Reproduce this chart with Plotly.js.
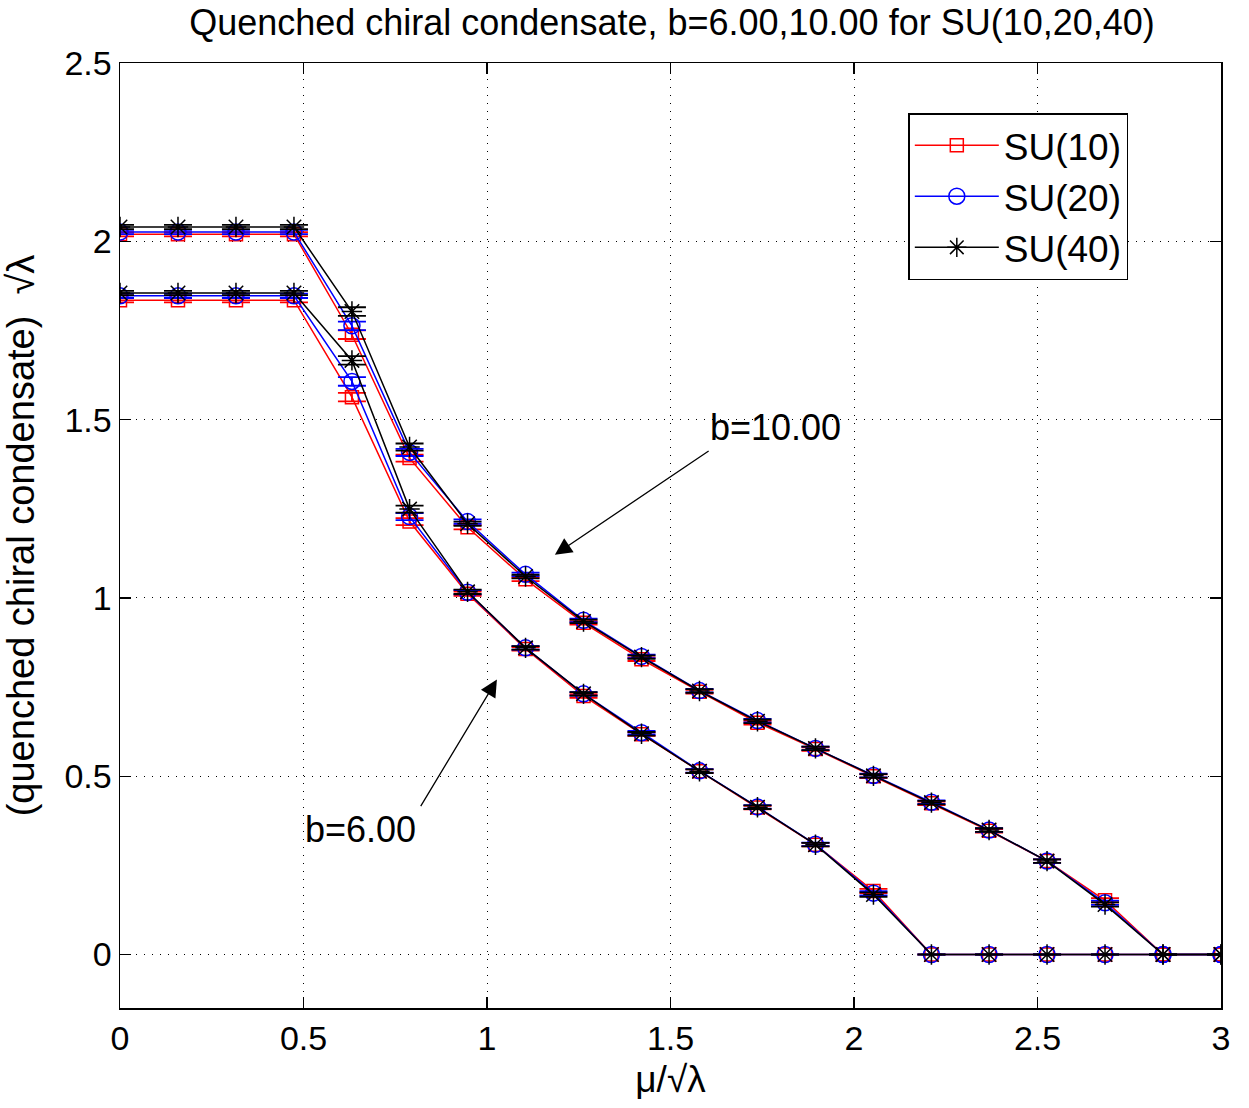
<!DOCTYPE html>
<html>
<head>
<meta charset="utf-8">
<script src="https://cdn.plot.ly/plotly-3.0.1.min.js"></script>
<style>
  html, body { margin: 0; padding: 0; background: #fff; }
  #chart { width: 1249px; height: 1108px; }
</style>
</head>
<body>
<div id="chart"></div>
<script>
// chemical potential mu / sqrt(lambda)
const mu = [0, 0.158, 0.316, 0.474, 0.632, 0.789, 0.947, 1.105, 1.263, 1.421,
            1.579, 1.737, 1.895, 2.053, 2.211, 2.368, 2.526, 2.684, 2.842, 3.0];

// condensate at b = 6.00
const b6_su10 = [1.835, 1.835, 1.835, 1.835, 1.563, 1.214, 1.012, 0.857, 0.725, 0.618,
                 0.514, 0.412, 0.308, 0.178, 0, 0, 0, 0, 0, 0];
const b6_su20 = [1.847, 1.847, 1.847, 1.847, 1.607, 1.228, 1.016, 0.860, 0.731, 0.622,
                 0.515, 0.414, 0.309, 0.172, 0, 0, 0, 0, 0, 0];
const b6_su40 = [1.855, 1.855, 1.855, 1.855, 1.666, 1.249, 1.017, 0.860, 0.731, 0.619,
                 0.514, 0.413, 0.308, 0.168, 0, 0, 0, 0, 0, 0];

// condensate at b = 10.00
const b10_su10 = [2.020, 2.020, 2.020, 2.020, 1.738, 1.392, 1.198, 1.052, 0.930, 0.828,
                  0.737, 0.650, 0.576, 0.500, 0.424, 0.347, 0.262, 0.152, 0, 0];
const b10_su20 = [2.026, 2.026, 2.026, 2.026, 1.763, 1.408, 1.214, 1.066, 0.937, 0.836,
                  0.740, 0.656, 0.578, 0.502, 0.427, 0.349, 0.262, 0.145, 0, 0];
const b10_su40 = [2.040, 2.040, 2.040, 2.040, 1.803, 1.423, 1.208, 1.060, 0.934, 0.834,
                  0.739, 0.654, 0.578, 0.501, 0.426, 0.349, 0.262, 0.140, 0, 0];

// statistical errors
const err_b6  = [0.006, 0.006, 0.006, 0.006, 0.012, 0.010, 0.006, 0.005, 0.005, 0.005,
                 0.005, 0.005, 0.005, 0.006, 0, 0, 0, 0, 0, 0];
const err_b10 = [0.006, 0.006, 0.006, 0.006, 0.012, 0.010, 0.006, 0.005, 0.005, 0.005,
                 0.005, 0.005, 0.005, 0.005, 0.005, 0.005, 0.005, 0.006, 0, 0];

const seriesNames = ['SU(10)', 'SU(20)', 'SU(40)'];
const colors = ['#ff0000', '#0000ff', '#000000'];
const symbols = ['square-open', 'circle-open', 'asterisk-open'];
const markerSizes = [13, 16, 17];

const b6 = [b6_su10, b6_su20, b6_su40];
const b10 = [b10_su10, b10_su20, b10_su40];

function makeTrace(y, err, i, showLegend) {
  return {
    x: mu, y: y, type: 'scatter', mode: 'lines+markers',
    name: seriesNames[i], showlegend: showLegend, legendgroup: seriesNames[i],
    line: { color: colors[i], width: 1.5 },
    marker: { symbol: symbols[i], size: markerSizes[i], color: colors[i],
              line: { color: colors[i], width: 1.5 } },
    error_y: { type: 'data', array: err, visible: true, color: colors[i],
               thickness: 1.8, width: 14 }
  };
}

const traces = [];
for (let i = 0; i < 3; i++) {
  traces.push(makeTrace(b6[i], err_b6, i, false));
  traces.push(makeTrace(b10[i], err_b10, i, true));
}

const font = 'Liberation Sans, Arial, Helvetica, sans-serif';

const axisCommon = {
  showline: true, linecolor: '#000', linewidth: 1.5, mirror: 'ticks',
  ticks: 'inside', ticklen: 11, tickwidth: 1.2, tickcolor: '#000',
  showgrid: true, gridcolor: '#000', gridwidth: 1, griddash: '1px,7px',
  zeroline: false,
  tickfont: { family: font, size: 34, color: '#000' }
};

const layout = {
  width: 1249, height: 1108,
  paper_bgcolor: '#fff', plot_bgcolor: '#fff',
  margin: { l: 120, r: 28, t: 63, b: 100 },
  title: { text: 'Quenched chiral condensate, b=6.00,10.00 for SU(10,20,40)',
           font: { family: font, size: 36, color: '#000' },
           x: 0.538, xanchor: 'center', y: 0.991, yanchor: 'top' },
  xaxis: Object.assign({}, axisCommon, {
    range: [0, 3], tickvals: [0, 0.5, 1, 1.5, 2, 2.5, 3],
    ticktext: ['0', '0.5', '1', '1.5', '2', '2.5', '3'],
    title: { text: 'μ/√λ', font: { family: font, size: 37, color: '#000' }, standoff: 10 }
  }),
  yaxis: Object.assign({}, axisCommon, {
    range: [-0.15, 2.5], tickvals: [0, 0.5, 1, 1.5, 2, 2.5],
    ticktext: ['0', '0.5', '1', '1.5', '2', '2.5'],
    title: { text: '(quenched chiral condensate)  √λ',
             font: { family: font, size: 38, color: '#000' }, standoff: 18 }
  }),
  legend: {
    x: 0.716, y: 0.947, xanchor: 'left', yanchor: 'top',
    bgcolor: '#fff', bordercolor: '#000', borderwidth: 1.5,
    font: { family: font, size: 37, color: '#000' },
    tracegroupgap: 0, itemwidth: 84
  },
  annotations: [
    { x: 1.185, y: 1.121, ax: 1.608, ay: 1.415, xref: 'x', yref: 'y',
      axref: 'x', ayref: 'y', showarrow: true, arrowhead: 2, arrowsize: 2.6,
      arrowwidth: 1.3, arrowcolor: '#000', text: '' },
    { x: 1.785, y: 1.477, xref: 'x', yref: 'y', showarrow: false, text: 'b=10.00',
      font: { family: font, size: 36, color: '#000' } },
    { x: 1.027, y: 0.771, ax: 0.817, ay: 0.412, xref: 'x', yref: 'y',
      axref: 'x', ayref: 'y', showarrow: true, arrowhead: 2, arrowsize: 2.6,
      arrowwidth: 1.3, arrowcolor: '#000', text: '' },
    { x: 0.654, y: 0.350, xref: 'x', yref: 'y', showarrow: false, text: 'b=6.00',
      font: { family: font, size: 36, color: '#000' } }
  ]
};

Plotly.newPlot('chart', traces, layout, { displayModeBar: false, staticPlot: true });
</script>
</body>
</html>
